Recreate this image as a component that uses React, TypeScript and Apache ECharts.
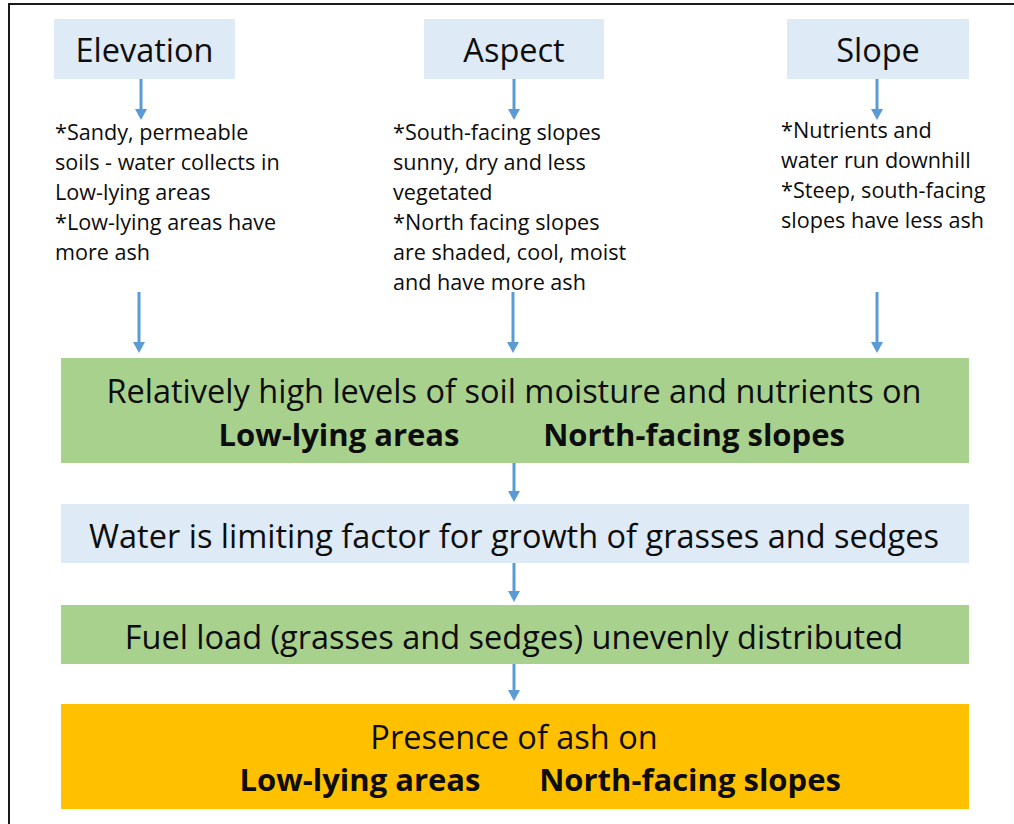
import React, { useEffect, useRef } from "react";
import * as echarts from "echarts";

const factorTitles = ["Elevation", "Aspect", "Slope"];
const factorNotes = [
  ["*Sandy, permeable", "soils - water collects in", "Low-lying areas", "*Low-lying areas have", "more ash"],
  ["*South-facing slopes", "sunny, dry and less", "vegetated", "*North facing slopes", "are shaded, cool, moist", "and have more ash"],
  ["*Nutrients and", "water run downhill", "*Steep, south-facing", "slopes have less ash"],
];
const stepTexts = [
  "Relatively high levels of soil moisture and nutrients on",
  "Water is limiting factor for growth of grasses and sedges",
  "Fuel load (grasses and sedges) unevenly distributed",
  "Presence of ash on",
];
const places = ["Low-lying areas", "North-facing slopes"];

const FONT = "'Open Sans'";
const BLUE = "#5B9BD5";
const LIGHT = "#DEEAF6";
const GREEN = "#A9D18E";
const ORANGE = "#FFC000";
const TITLE_SIZE = 32.5;
const NOTE_SIZE = 21.6;
const MAIN_SIZE = 32.5;
const BOLD_SIZE = 31;

function arrow(x: number, y1: number, y2: number) {
  const head = 11;
  return [
    { type: "line", shape: { x1: x, y1, x2: x, y2: y2 - head + 1 }, style: { stroke: BLUE, lineWidth: 3 } },
    {
      type: "polygon",
      shape: { points: [[x - 6, y2 - head], [x + 6, y2 - head], [x, y2]] },
      style: { fill: BLUE },
    },
  ];
}

function txt(x: number, y: number, text: string, size: number, bold = false, align = "center") {
  return {
    type: "text",
    x,
    y,
    style: {
      text,
      fill: "#0d0d0d",
      font: `${bold ? "bold " : ""}${size}px ${FONT}`,
      textAlign: align,
      textVerticalAlign: "middle",
    },
  };
}

export default function App() {
  const ref = useRef<HTMLDivElement>(null);
  useEffect(() => {
    if (!ref.current) return;
    const chart = echarts.init(ref.current, null, { renderer: "svg" });
    const els: any[] = [];
    els.push({ type: "rect", shape: { x: 0, y: 0, width: 1014, height: 824 }, style: { fill: "#fff" } });
    els.push({ type: "line", shape: { x1: 8, y1: 4, x2: 1014, y2: 4 }, style: { stroke: "#1a1a1a", lineWidth: 2 } });
    els.push({ type: "line", shape: { x1: 9, y1: 3, x2: 9, y2: 824 }, style: { stroke: "#1a1a1a", lineWidth: 2 } });

    const titleBoxes = [
      { x: 54, w: 181 },
      { x: 424, w: 180 },
      { x: 787, w: 182 },
    ];
    const arrowX1 = [141, 514, 877];
    const arrowX2 = [139, 513, 877];
    const noteX = [55, 393, 781];
    const noteY = [116, 116, 114];
    factorTitles.forEach((t, i) => {
      const b = titleBoxes[i];
      els.push({ type: "rect", shape: { x: b.x, y: 19, width: b.w, height: 60 }, style: { fill: LIGHT } });
      els.push(txt(b.x + b.w / 2, 49, t, TITLE_SIZE));
      els.push(...arrow(arrowX1[i], 79, 120));
      els.push({
        type: "text",
        x: noteX[i],
        y: noteY[i],
        style: {
          text: factorNotes[i].join("\n"),
          fill: "#0d0d0d",
          font: `${NOTE_SIZE}px ${FONT}`,
          lineHeight: 30,
          textAlign: "left",
          textVerticalAlign: "top",
        },
      });
      els.push(...arrow(arrowX2[i], 292, 353));
    });

    els.push({ type: "rect", shape: { x: 61, y: 358, width: 908, height: 105 }, style: { fill: GREEN } });
    els.push(txt(514, 390, stepTexts[0], MAIN_SIZE));
    els.push(txt(339, 434, places[0], BOLD_SIZE, true));
    els.push(txt(694, 434, places[1], BOLD_SIZE, true));
    els.push(...arrow(514, 463, 502));

    els.push({ type: "rect", shape: { x: 61, y: 504, width: 908, height: 59 }, style: { fill: LIGHT } });
    els.push(txt(514, 535, stepTexts[1], MAIN_SIZE));
    els.push(...arrow(514, 563, 602));

    els.push({ type: "rect", shape: { x: 61, y: 605, width: 908, height: 59 }, style: { fill: GREEN } });
    els.push(txt(514, 636, stepTexts[2], MAIN_SIZE));
    els.push(...arrow(514, 664, 701));

    els.push({ type: "rect", shape: { x: 61, y: 704, width: 908, height: 105 }, style: { fill: ORANGE } });
    els.push(txt(514, 736, stepTexts[3], MAIN_SIZE));
    els.push(txt(360, 779, places[0], BOLD_SIZE, true));
    els.push(txt(690, 779, places[1], BOLD_SIZE, true));

    chart.setOption({ animation: false, graphic: { elements: els } });
    return () => chart.dispose();
  }, []);
  return <div ref={ref} style={{ position: "absolute", left: 0, top: 0, width: 1014, height: 824 }} />;
}
